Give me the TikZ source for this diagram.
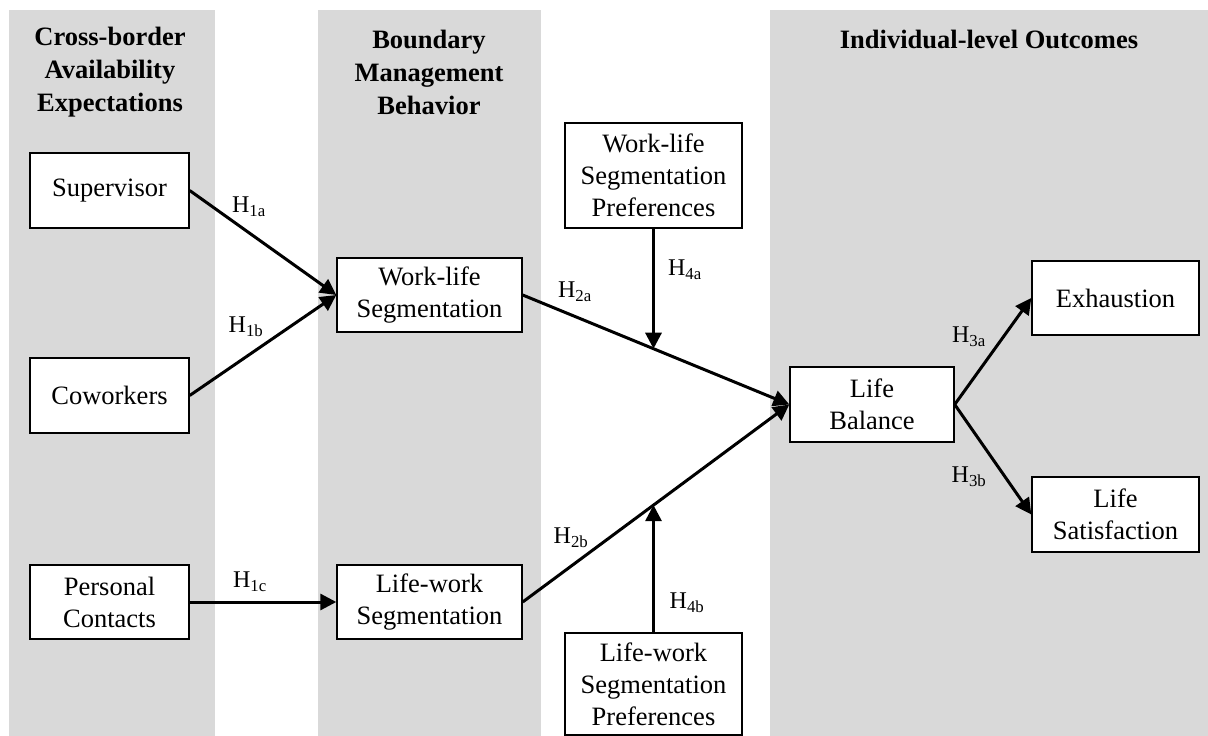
\documentclass[tikz,border=0pt]{standalone}
\usepackage{fontspec}
\setmainfont{Liberation Serif}
\usetikzlibrary{arrows.meta,calc}
\definecolor{colgray}{RGB}{217,217,217}
\newcommand{\hlab}[1]{H\textsubscript{#1}}
\tikzset{
  x=1pt, y=-1pt,
  column/.style={fill=colgray, draw=none},
  heading/.style={align=center, font=\fontsize{26.5}{33}\selectfont\bfseries},
  box/.style={draw, line width=1.4pt, fill=white, align=center,
              inner sep=0pt, font=\fontsize{26.5}{32}\selectfont},
  link/.style={line width=3pt, -{Triangle[length=16pt,width=16pt]}},
  hyp/.style={font=\fontsize{24}{27}\selectfont, inner sep=1pt}
}
\begin{document}
\begin{tikzpicture}
\useasboundingbox (0,0) rectangle (1208,736);

% shaded columns
\fill[column] (9,10) rectangle (215,736);
\fill[column] (318,10) rectangle (541,736);
\fill[column] (770,10) rectangle (1208,736);

% column headings
\node[heading] (h1) at (110,72) {Cross-border\\Availability\\Expectations};
\node[heading] (h2) at (429,72) {Boundary\\Management\\Behavior};
\node[heading] (h3) at (989,39) {Individual-level Outcomes};

% variables
\node[box, minimum width=159, minimum height=75] (sup) at (109.5,190.5) {Supervisor};
\node[box, minimum width=159, minimum height=75] (cow) at (109.5,395.5) {Coworkers};
\node[box, minimum width=159, minimum height=74] (per) at (109.5,602) {Personal\\Contacts};
\node[box, minimum width=185, minimum height=74] (wl) at (429.5,295) {Work-life\\Segmentation};
\node[box, minimum width=185, minimum height=74] (lw) at (429.5,602) {Life-work\\Segmentation};
\node[box, minimum width=177, minimum height=105] (wlp) at (653.5,175.5) {Work-life\\Segmentation\\Preferences};
\node[box, minimum width=177, minimum height=102] (lwp) at (653.5,684) {Life-work\\Segmentation\\Preferences};
\node[box, minimum width=164, minimum height=75] (lb) at (872,404.5) {Life\\Balance};
\node[box, minimum width=167, minimum height=74] (exh) at (1115.5,298) {Exhaustion};
\node[box, minimum width=167, minimum height=75] (ls) at (1115.5,514.5) {Life\\Satisfaction};

% main paths
\draw[link] (sup.east) -- (wl.west);
\draw[link] (cow.east) -- (wl.west);
\draw[link] (per.east) -- (lw.west);
\draw[link] (wl.east) -- (lb.west);
\draw[link] (lw.east) -- (lb.west);
\draw[link] (lb.east) -- (exh.west);
\draw[link] (lb.east) -- (ls.west);

% moderating effects onto the paths
\coordinate (m1) at ($(wl.east)!0.4907!(lb.west)$);
\coordinate (m2) at ($(lw.east)!0.4907!(lb.west)$);
\draw[link] (wlp.south) -- (wlp.south |- m1);
\draw[link] (lwp.north) -- (lwp.north |- m2);

% hypothesis labels
\node[hyp] (l1a) at (249,207) {\hlab{1a}};
\node[hyp] (l1b) at (246,327) {\hlab{1b}};
\node[hyp] (l1c) at (250,582) {\hlab{1c}};
\node[hyp] (l2a) at (575,292) {\hlab{2a}};
\node[hyp] (l2b) at (571,538) {\hlab{2b}};
\node[hyp] (l4a) at (685,270) {\hlab{4a}};
\node[hyp] (l4b) at (687,603) {\hlab{4b}};
\node[hyp] (l3a) at (969,337) {\hlab{3a}};
\node[hyp] (l3b) at (969,477) {\hlab{3b}};
\end{tikzpicture}
\end{document}
